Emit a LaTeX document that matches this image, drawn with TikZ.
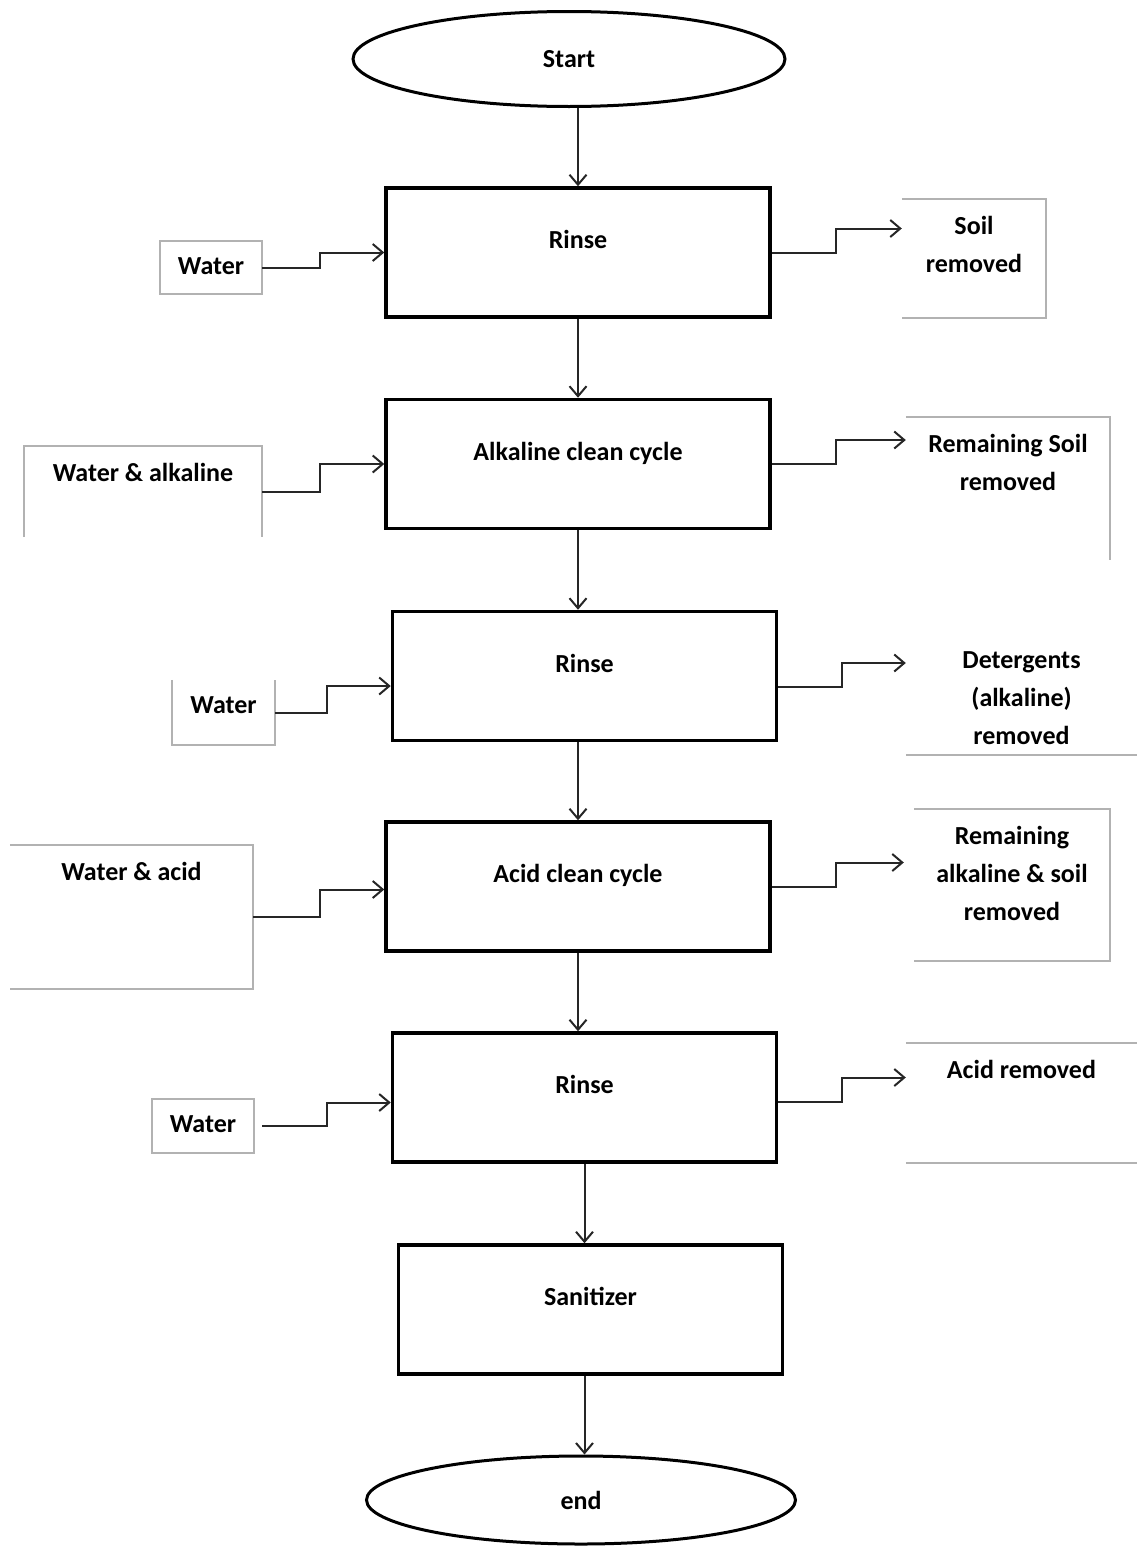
\documentclass[tikz,border=0pt]{standalone}
\usepackage{fontspec}
\setmainfont{Carlito}
\usetikzlibrary{positioning}
\usetikzlibrary{arrows.meta}
\usetikzlibrary{shapes.geometric}
\tikzset{stage/.style = {draw, line width=3.5pt, minimum width=384,
                         minimum height=129, inner sep=0}}
\tikzset{term/.style = {draw, ellipse, line width=3pt, inner sep=0,
                        font=\fontsize{26}{30}\selectfont\bfseries}}
\tikzset{feed/.style = {inner sep=0}}
\tikzset{edge/.style = {draw=black!30, line width=1.6pt}}
\tikzset{flow/.style = {draw=black!85, line width=2pt,
                        -{Straight Barb[length=10pt,width=17pt]}}}
\tikzset{mtext/.style = {anchor=north, yshift=-44pt, inner sep=0,
                         font=\fontsize{26}{38}\selectfont\bfseries}}
\tikzset{ftext/.style = {anchor=north, yshift=-17pt, inner sep=0, align=center,
                         font=\fontsize{26}{38}\selectfont\bfseries}}

\begin{document}
\begin{tikzpicture}[x=1pt,y=-1pt]
  \useasboundingbox (0,0) rectangle (1137,1550);
  \node[term, minimum width=432, minimum height=95] (start) at (569,59) {Start};
  \node[stage, label={[mtext]north:Rinse}] (r1) at (578,252.5) {};
  \node[stage, label={[mtext]north:Alkaline clean cycle}] (alk) at (578,464) {};
  \node[stage, label={[mtext]north:Rinse}] (r2) at (584.5,676) {};
  \node[stage, label={[mtext]north:Acid clean cycle}] (acid) at (578,886.5) {};
  \node[stage, label={[mtext]north:Rinse}] (r3) at (584.5,1097.5) {};
  \node[stage, label={[mtext]north:Sanitizer}] (san) at (590.5,1309.5) {};
  \node[term, minimum width=429, minimum height=88] (stop) at (581,1500) {end};

  \node[feed, minimum width=102, minimum height=53,
        label={[ftext]north:Water}] (w1) at (211,267.5) {};
  \node[feed, minimum width=238, minimum height=91,
        label={[ftext]north:Water \& alkaline}] (wa) at (143,491.5) {};
  \node[feed, minimum width=103, minimum height=65,
        label={[ftext]north:Water}] (w2) at (223.5,712.5) {};
  \node[feed, minimum width=243, minimum height=144,
        label={[ftext]north:Water \& acid}] (wc) at (131.5,917) {};
  \node[feed, minimum width=102, minimum height=54,
        label={[ftext]north:Water}] (w3) at (203,1126) {};

  \node[feed, minimum width=144, minimum height=119,
        label={[ftext]north:Soil\\removed}] (s1) at (974,258.5) {};
  \node[feed, minimum width=204, minimum height=143,
        label={[ftext]north:Remaining Soil\\removed}] (s2) at (1008,488.5) {};
  \node[feed, minimum width=231, minimum height=120,
        label={[ftext]north:Detergents\\(alkaline)\\removed}] (s3) at (1021.5,695) {};
  \node[feed, minimum width=196, minimum height=152,
        label={[ftext]north:Remaining\\alkaline \& soil\\removed}] (s4) at (1012,885) {};
  \node[feed, minimum width=231, minimum height=120,
        label={[ftext]north:Acid removed}] (s5) at (1021.5,1103) {};

  \draw[edge] (w1.north west) rectangle (w1.south east);
  \draw[edge] (wa.south west) -- (wa.north west) -- (wa.north east) -- (wa.south east);
  \draw[edge] (w2.north west) -- (w2.south west) -- (w2.south east) -- (w2.north east);
  \draw[edge] (wc.north west) -- (wc.north east) -- (wc.south east) -- (wc.south west);
  \draw[edge] (w3.north west) rectangle (w3.south east);
  \draw[edge] (s1.north west) -- (s1.north east) -- (s1.south east) -- (s1.south west);
  \draw[edge] (s2.north west) -- (s2.north east) -- (s2.south east);
  \draw[edge] (s3.south west) -- (s3.south east);
  \draw[edge] (s4.north west) -- (s4.north east) -- (s4.south east) -- (s4.south west);
  \draw[edge] (s5.north west) -- (s5.north east);
  \draw[edge] (s5.south west) -- (s5.south east);

  \draw[flow] (start.south -| r1.north) -- (r1.north);
  \draw[flow] (r1.south) -- (alk.north);
  \draw[flow] (alk.south) -- (alk.south |- r2.north);
  \draw[flow] (acid.north |- r2.south) -- (acid.north);
  \draw[flow] (acid.south) -- (acid.south |- r3.north);
  \draw[flow] (r3.south) -- (r3.south |- san.north);
  \draw[flow] (san.south -| r3.south) -- (stop.north -| r3.south);

  \draw[flow] (w1.east) -| ([xshift=-64pt]r1.west) -- (r1.west);
  \draw[flow] (wa.east) -| ([xshift=-64pt]alk.west) -- (alk.west);
  \draw[flow] (w2.east) -| ([xshift=-64pt,yshift=-10pt]r2.west) -- ([yshift=-10pt]r2.west);
  \draw[flow] (wc.east) -| ([xshift=-64pt,yshift=-3pt]acid.west) -- ([yshift=-3pt]acid.west);
  \draw[flow, shorten <=8pt] (w3.east) -| ([xshift=-64pt,yshift=-5pt]r3.west) -- ([yshift=-5pt]r3.west);

  \draw[flow] (r1.east) -- ++(64,0) -- ++(0,-24) coordinate (k1) -- (k1 -| s1.west);
  \draw[flow] (alk.east) -- ++(64,0) -- ++(0,-24) coordinate (k2) -- (k2 -| s2.west);
  \draw[flow] ([yshift=-11pt]r2.east) -- ++(64,0) -- ++(0,-24) coordinate (k3) -- (k3 -| s3.west);
  \draw[flow] (acid.east) -- ++(64,0) -- ++(0,-24) coordinate (k4) -- ([xshift=-10pt]k4 -| s4.west);
  \draw[flow] ([yshift=-4pt]r3.east) -- ++(64,0) -- ++(0,-24) coordinate (k5) -- (k5 -| s5.west);
\end{tikzpicture}
\end{document}
